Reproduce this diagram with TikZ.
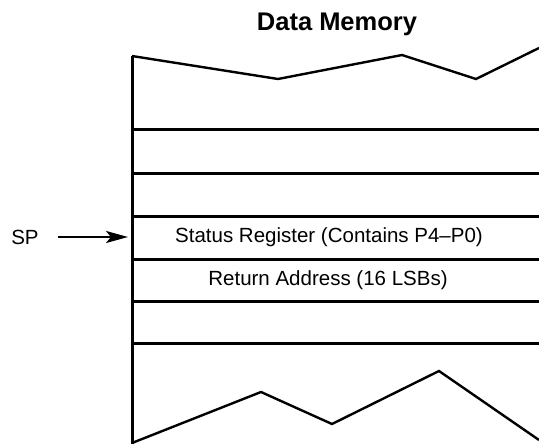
\documentclass[tikz,border=0pt]{standalone}
\usepackage{fontspec}
\setmainfont{Liberation Sans}
\usetikzlibrary{arrows.meta}

\begin{document}
\begin{tikzpicture}[x=1pt,y=-1pt,
    cellline/.style={line width=3pt},
    breakline/.style={line width=2.4pt},
    celltext/.style={font=\fontsize{20.5}{24}\selectfont},
]
            \useasboundingbox (0,0) rectangle (539,444);

            \coordinate (TL) at (132,56);
            \coordinate (BL) at (132,444);

            % title
            \node[font=\fontsize{25.5}{30}\bfseries] (title) at (337,24) {Data Memory};

            % torn edges
            \draw[breakline, line join=miter] (TL) -- (278,79) -- (402,55) -- (476,79) -- (539,48);
            \draw[breakline, line join=miter] (132,443) -- (261,392) -- (332,424) -- (439,371) -- (539,440);

            % left wall and cell borders
            \draw[cellline] (TL) -- (BL);
            \foreach \y in {130,173,216,259,301,343}
                \draw[cellline] (131,\y) -- (539,\y);

            \node[celltext] (status) at (329,237) {Status Register (Contains P4--P0)};
            \node[celltext] (ret) at (328,280) {Return Address (16 LSBs)};

            % stack pointer
            \node[celltext] (sp) at (25,237) {SP};
            \coordinate (SPout) at (58,237);
            \coordinate (SPin) at (128,237);
            \draw[line width=2.5pt, -{Stealth[length=22pt,width=12pt,inset=5pt]}] (SPout) -- (SPin);
        \end{tikzpicture}
\end{document}
